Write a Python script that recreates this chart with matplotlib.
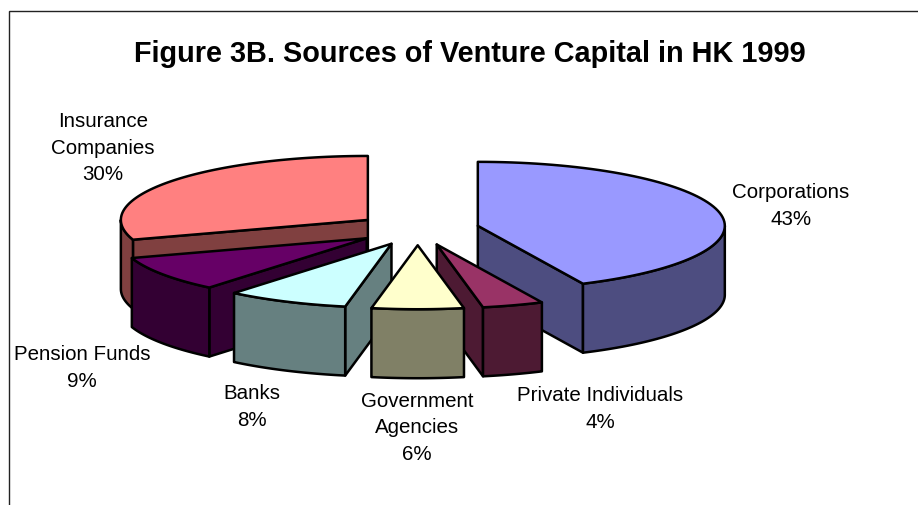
# venture_pie.py

import matplotlib

matplotlib.use("Agg")

import matplotlib.pyplot as plt
import numpy as np
from matplotlib.patches import Polygon

# ============================================================
# DATA
# ============================================================

categories = [
    "Corporations",
    "Private Individuals",
    "Government\nAgencies",
    "Banks",
    "Pension Funds",
    "Insurance\nCompanies",
]

shares = [43, 4, 6, 8, 9, 30]

top_colors = ["#9999FF", "#993366", "#FFFFCC", "#CCFFFF", "#660066", "#FF8080"]
wall_colors = ["#4D4D80", "#4D1A33", "#808066", "#668080", "#330033", "#804040"]

title = "Figure 3B. Sources of Venture Capital in HK 1999"

# ============================================================
# CONFIG
# ============================================================

W, H = 918, 506

cx, cy = 417.7, 230.3
rx = 247.0
squash = 0.259
explode = 61.6
depth = 69.0

# back to front
draw_order = [5, 4, 0, 1, 3, 2]

# label centre in pixels, same order as categories
label_xy = [(791, 206), (600, 409), (417, 428), (252, 407), (82, 368), (103, 148)]

plt.rcParams["font.family"] = ["Liberation Sans", "DejaVu Sans"]

# ============================================================
# GEOMETRY
# ============================================================


def point(phi, radius=rx):
    # phi in radians, clockwise from the top of the pie
    return np.array([radius * np.sin(phi), -radius * squash * np.cos(phi)])


def arc(a, b):
    t = np.linspace(a, b, 80)
    return np.column_stack([rx * np.sin(t), -rx * squash * np.cos(t)])


def draw_slice(ax, start, end, top, wall):

    mid = 0.5 * (start + end)

    apex = np.array([cx, cy]) + point(mid, explode)

    down = np.array([0, depth])

    # radial cut faces
    for phi, visible in ((start, np.sin(start) < 0), (end, np.sin(end) > 0)):

        if visible:

            p = apex + point(phi)

            face = [apex, p, p + down, apex + down]

            ax.add_patch(Polygon(face, fc=wall, ec="black", lw=1.8, joinstyle="round"))

    # outer wall, only the front half of the rim shows
    a = max(start, np.pi / 2)
    b = min(end, 1.5 * np.pi)

    if b > a:

        rim = apex + arc(a, b)

        face = np.vstack([rim, rim[::-1] + down])

        ax.add_patch(Polygon(face, fc=wall, ec="black", lw=1.8, joinstyle="round"))

    # top face
    face = np.vstack([apex, apex + arc(start, end)])

    ax.add_patch(Polygon(face, fc=top, ec="black", lw=1.8, joinstyle="round"))


# ============================================================
# PLOT
# ============================================================

fig = plt.figure(figsize=(W / 100, H / 100), dpi=100)

ax = fig.add_axes([0, 0, 1, 1])

ax.set_xlim(0, W)
ax.set_ylim(H, 0)
ax.axis("off")

# chart frame runs off the right and bottom of the picture
ax.plot([8.5, 8.5, W], [H, 11.5, 11.5], color="#222222", lw=1.0, solid_joinstyle="miter")

edges = 2 * np.pi * np.cumsum([0] + shares) / sum(shares)

for i in draw_order:

    draw_slice(ax, edges[i], edges[i + 1], top_colors[i], wall_colors[i])

for name, share, (x, y) in zip(categories, shares, label_xy):

    ax.text(
        x,
        y,
        f"{name}\n{share}%",
        ha="center",
        va="center",
        fontsize=14.8,
        linespacing=1.52,
        color="black",
    )

ax.text(
    470,
    54,
    title,
    ha="center",
    va="center",
    fontsize=20.8,
    fontweight="bold",
    color="black",
)

fig.savefig("out.png", dpi=100)

plt.close(fig)
